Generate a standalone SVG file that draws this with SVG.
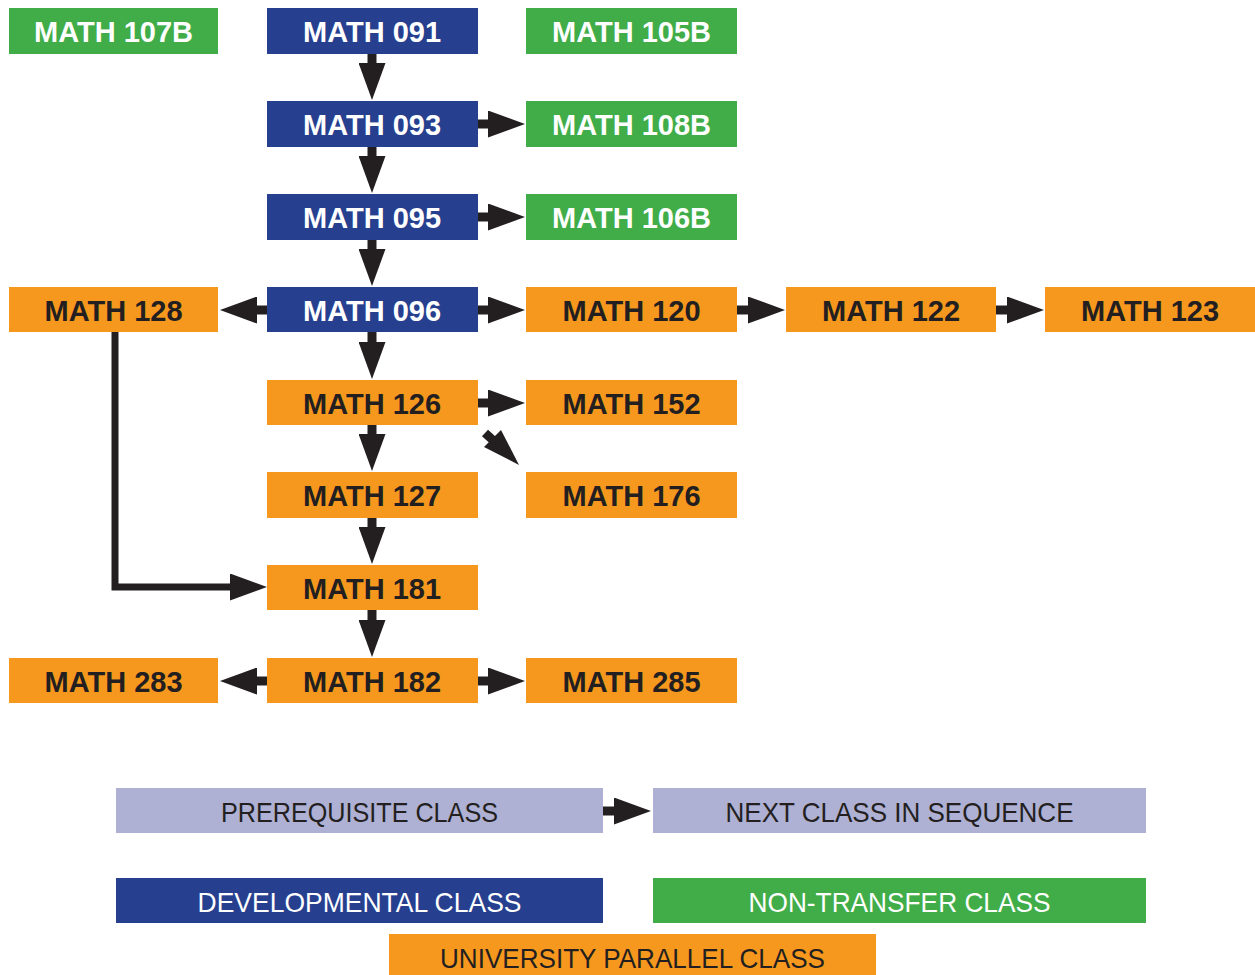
<svg xmlns="http://www.w3.org/2000/svg" width="1255" height="975" viewBox="0 0 1255 975">
<style>
.dev{fill:#26408f}
.nt{fill:#40ad49}
.up{fill:#f7981e}
.leg{fill:#aeb0d4}
.lb{font-family:"Liberation Sans",Arial,sans-serif;font-weight:bold;font-size:29px;text-anchor:middle}
.lw{fill:#ffffff}
.lk{fill:#231f20}
.lg{font-family:"Liberation Sans",Arial,sans-serif;font-size:28px;text-anchor:middle}
.c{stroke:#231f20;stroke-width:9;fill:none}
</style>
<defs>
<marker id="ah" viewBox="0 0 37 27" refX="1" refY="13.5" markerWidth="37" markerHeight="27" markerUnits="userSpaceOnUse" orient="auto">
<path d="M0,0 L37,13.5 L0,27 Z" fill="#231f20"/>
</marker>
</defs>
<rect width="1255" height="975" fill="#ffffff"/>
<g id="connectors">
<line class="c" x1="372" y1="54" x2="372" y2="64" marker-end="url(#ah)"/>
<line class="c" x1="372" y1="147" x2="372" y2="157" marker-end="url(#ah)"/>
<line class="c" x1="372" y1="240" x2="372" y2="250" marker-end="url(#ah)"/>
<line class="c" x1="372" y1="332" x2="372" y2="343" marker-end="url(#ah)"/>
<line class="c" x1="372" y1="425" x2="372" y2="435" marker-end="url(#ah)"/>
<line class="c" x1="372" y1="518" x2="372" y2="528" marker-end="url(#ah)"/>
<line class="c" x1="372" y1="610" x2="372" y2="621" marker-end="url(#ah)"/>
<line class="c" x1="478" y1="124" x2="489" y2="124" marker-end="url(#ah)"/>
<line class="c" x1="478" y1="217" x2="489" y2="217" marker-end="url(#ah)"/>
<line class="c" x1="478" y1="310" x2="489" y2="310" marker-end="url(#ah)"/>
<line class="c" x1="737" y1="310" x2="749" y2="310" marker-end="url(#ah)"/>
<line class="c" x1="996" y1="310" x2="1008" y2="310" marker-end="url(#ah)"/>
<line class="c" x1="267" y1="310" x2="256" y2="310" marker-end="url(#ah)"/>
<line class="c" x1="478" y1="403" x2="489" y2="403" marker-end="url(#ah)"/>
<line class="c" x1="478" y1="681" x2="489" y2="681" marker-end="url(#ah)"/>
<line class="c" x1="267" y1="681" x2="256" y2="681" marker-end="url(#ah)"/>
<line x1="485" y1="433" x2="495" y2="442" stroke="#231f20" stroke-width="9"/>
<path d="M484,447 L501,430 L519,465 Z" fill="#231f20"/>
<path d="M115,332 V587 H231" stroke="#231f20" stroke-width="7" fill="none" marker-end="url(#ah)"/>
<line class="c" x1="603" y1="811" x2="615" y2="811" marker-end="url(#ah)"/>
</g>
<g id="math107b"><rect class="nt" x="9" y="8" width="209" height="46"/><text class="lb lw" x="113.5" y="42">MATH 107B</text></g>
<g id="math091"><rect class="dev" x="267" y="8" width="211" height="46"/><text class="lb lw" x="372" y="42">MATH 091</text></g>
<g id="math105b"><rect class="nt" x="526" y="8" width="211" height="46"/><text class="lb lw" x="631.5" y="42">MATH 105B</text></g>
<g id="math093"><rect class="dev" x="267" y="101" width="211" height="46"/><text class="lb lw" x="372" y="135">MATH 093</text></g>
<g id="math108b"><rect class="nt" x="526" y="101" width="211" height="46"/><text class="lb lw" x="631.5" y="135">MATH 108B</text></g>
<g id="math095"><rect class="dev" x="267" y="194" width="211" height="46"/><text class="lb lw" x="372" y="228">MATH 095</text></g>
<g id="math106b"><rect class="nt" x="526" y="194" width="211" height="46"/><text class="lb lw" x="631.5" y="228">MATH 106B</text></g>
<g id="math128"><rect class="up" x="9" y="287" width="209" height="45"/><text class="lb lk" x="113.5" y="321">MATH 128</text></g>
<g id="math096"><rect class="dev" x="267" y="287" width="211" height="45"/><text class="lb lw" x="372" y="321">MATH 096</text></g>
<g id="math120"><rect class="up" x="526" y="287" width="211" height="45"/><text class="lb lk" x="631.5" y="321">MATH 120</text></g>
<g id="math122"><rect class="up" x="786" y="287" width="210" height="45"/><text class="lb lk" x="891" y="321">MATH 122</text></g>
<g id="math123"><rect class="up" x="1045" y="287" width="210" height="45"/><text class="lb lk" x="1150" y="321">MATH 123</text></g>
<g id="math126"><rect class="up" x="267" y="380" width="211" height="45"/><text class="lb lk" x="372" y="414">MATH 126</text></g>
<g id="math152"><rect class="up" x="526" y="380" width="211" height="45"/><text class="lb lk" x="631.5" y="414">MATH 152</text></g>
<g id="math127"><rect class="up" x="267" y="472" width="211" height="46"/><text class="lb lk" x="372" y="506">MATH 127</text></g>
<g id="math176"><rect class="up" x="526" y="472" width="211" height="46"/><text class="lb lk" x="631.5" y="506">MATH 176</text></g>
<g id="math181"><rect class="up" x="267" y="565" width="211" height="45"/><text class="lb lk" x="372" y="599">MATH 181</text></g>
<g id="math283"><rect class="up" x="9" y="658" width="209" height="45"/><text class="lb lk" x="113.5" y="692">MATH 283</text></g>
<g id="math182"><rect class="up" x="267" y="658" width="211" height="45"/><text class="lb lk" x="372" y="692">MATH 182</text></g>
<g id="math285"><rect class="up" x="526" y="658" width="211" height="45"/><text class="lb lk" x="631.5" y="692">MATH 285</text></g>
<g id="legend-prereq"><rect class="leg" x="116" y="788" width="487" height="45"/><text class="lg lk" x="359.5" y="822" textLength="277" lengthAdjust="spacingAndGlyphs">PREREQUISITE CLASS</text></g>
<g id="legend-next"><rect class="leg" x="653" y="788" width="493" height="45"/><text class="lg lk" x="899.5" y="822" textLength="348" lengthAdjust="spacingAndGlyphs">NEXT CLASS IN SEQUENCE</text></g>
<g id="legend-dev"><rect class="dev" x="116" y="878" width="487" height="45"/><text class="lg lw" x="359.5" y="912" textLength="324" lengthAdjust="spacingAndGlyphs">DEVELOPMENTAL CLASS</text></g>
<g id="legend-nt"><rect class="nt" x="653" y="878" width="493" height="45"/><text class="lg lw" x="899.5" y="912" textLength="302" lengthAdjust="spacingAndGlyphs">NON-TRANSFER CLASS</text></g>
<g id="legend-up"><rect class="up" x="389" y="934" width="487" height="45"/><text class="lg lk" x="632.5" y="968" textLength="385" lengthAdjust="spacingAndGlyphs">UNIVERSITY PARALLEL CLASS</text></g>
</svg>
